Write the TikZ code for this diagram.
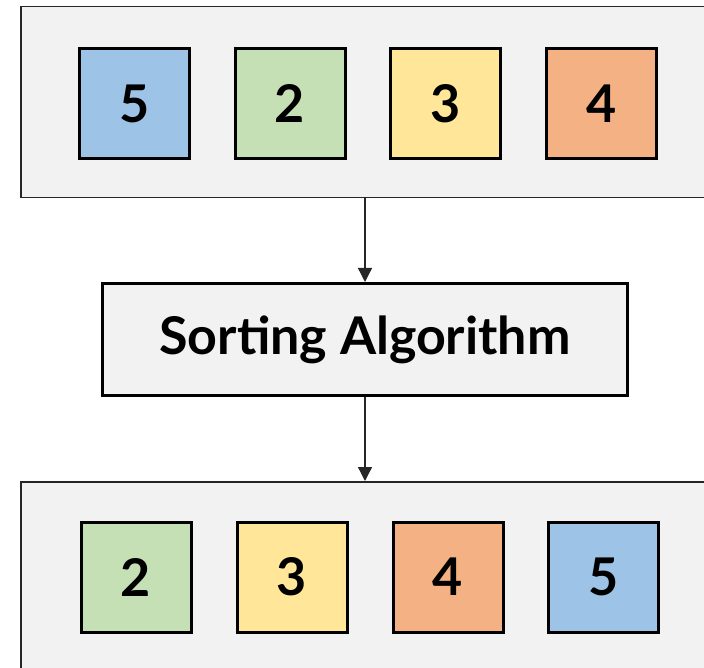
\documentclass[tikz,border=0pt]{standalone}
\usepackage{fontspec}
\setmainfont{Lato}
\usetikzlibrary{arrows.meta}
\definecolor{panelbg}{HTML}{F2F2F2}
\definecolor{cblue}{HTML}{9DC3E6}
\definecolor{cgreen}{HTML}{C5E0B4}
\definecolor{cyellow}{HTML}{FFE699}
\definecolor{corange}{HTML}{F4B183}
\tikzset{
  panel/.style={draw=black!85, line width=1.5pt, fill=panelbg},
  numbox/.style={draw=black, line width=3pt, minimum width=110pt, minimum height=110pt, inner sep=0pt, font=\fontsize{52}{52}\selectfont\bfseries},
  algbox/.style={draw=black, line width=3pt, fill=panelbg, minimum width=525pt, minimum height=112pt, inner sep=0pt, font=\fontsize{52}{52}\selectfont\bfseries},
  flow/.style={draw=black!85, line width=1.3pt, -{Triangle[length=14pt,width=14pt]}}
}
\begin{document}
\begin{tikzpicture}[x=1pt,y=-1pt]
\useasboundingbox (0,0) rectangle (704,668);
\begin{scope}
\clip (0,0) rectangle (704,668);
\node[panel, minimum width=700pt, minimum height=191pt, anchor=north west, inner sep=0pt] (top) at (20,6) {};
\node[panel, minimum width=700pt, minimum height=200pt, anchor=north west, inner sep=0pt] (bot) at (20,481) {};
\end{scope}
\node[numbox, fill=cblue] (t1) at (134.5,103.5) {5};
\node[numbox, fill=cgreen] (t2) at (290,103.5) {2};
\node[numbox, fill=cyellow] (t3) at (445.5,103.5) {3};
\node[numbox, fill=corange] (t4) at (601.5,103.5) {4};
\node[algbox] (alg) at (365,339.5) {Sorting Algorithm};
\node[numbox, fill=cgreen] (b1) at (136,577) {2};
\node[numbox, fill=cyellow] (b2) at (292,577) {3};
\node[numbox, fill=corange] (b3) at (448,577) {4};
\node[numbox, fill=cblue] (b4) at (603.5,577) {5};
\coordinate (a1s) at (365,197);
\coordinate (a2e) at (365,481);
\draw[flow] (a1s) -- (alg.north);
\draw[flow] (alg.south) -- (a2e);
\end{tikzpicture}
\end{document}
